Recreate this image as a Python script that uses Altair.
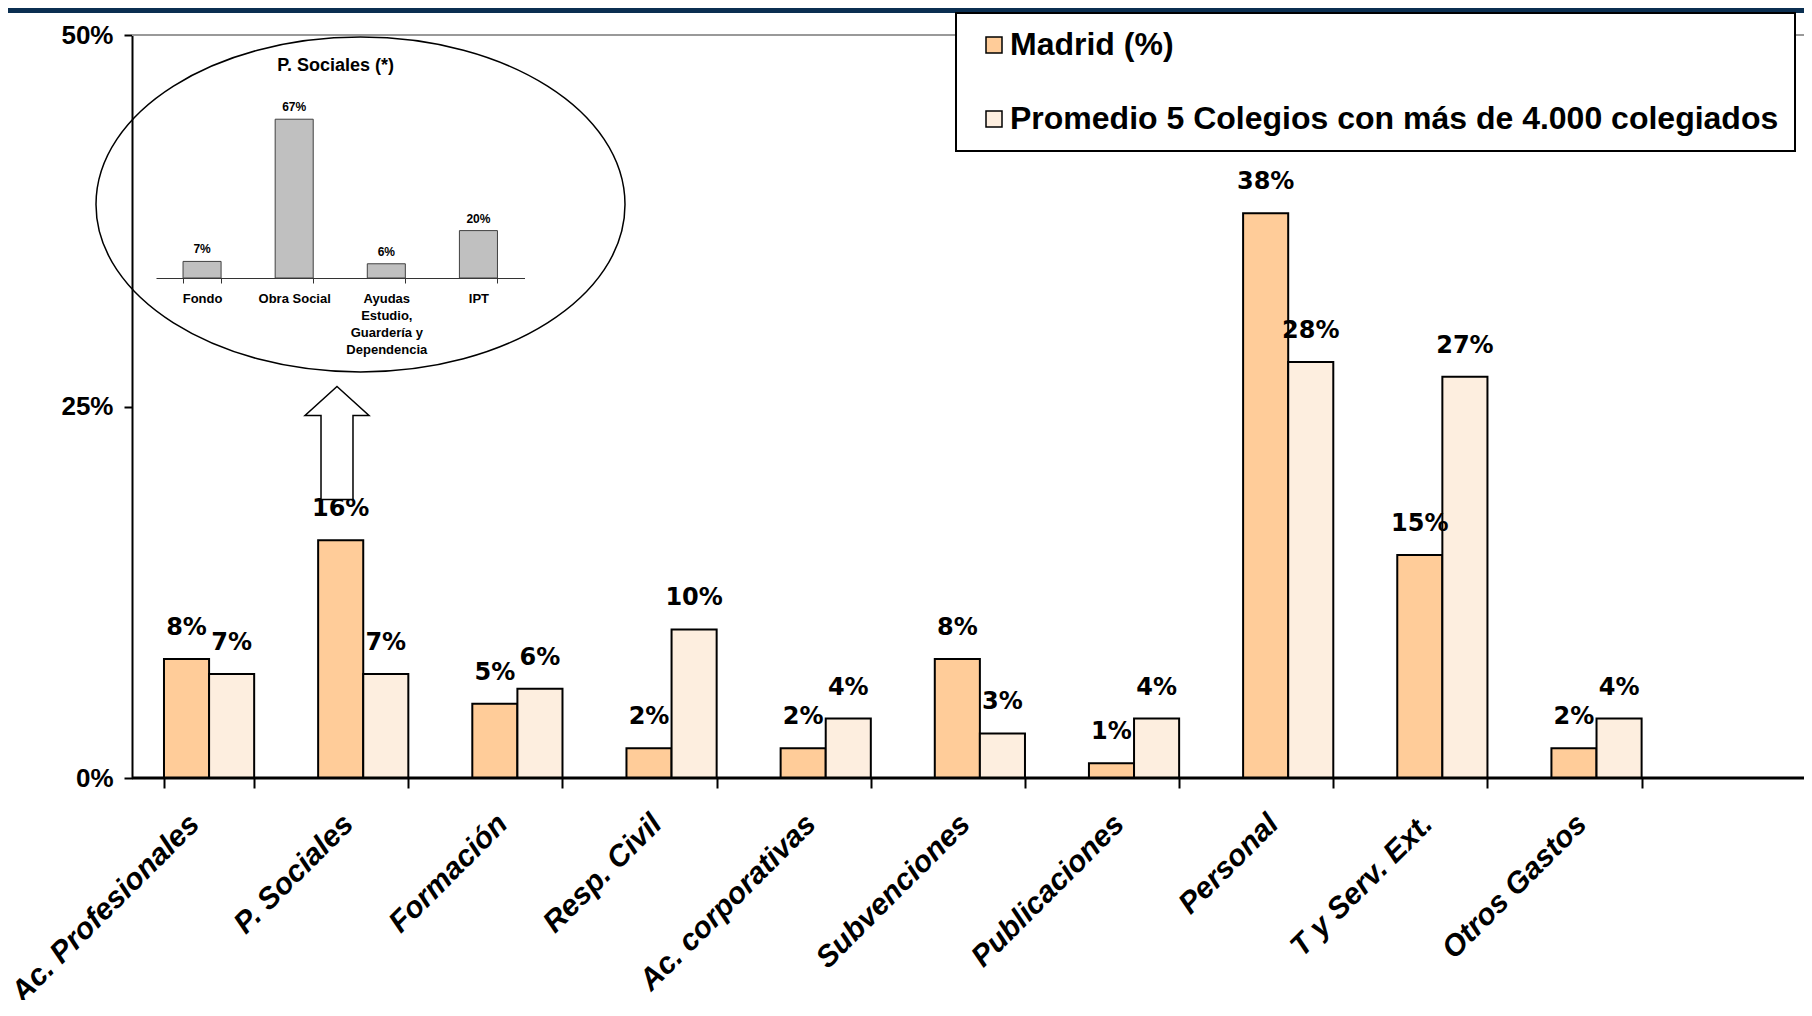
import altair as alt
import pandas as pd

# ---------------- data ----------------
categories = ["Ac. Profesionales", "P. Sociales", "Formación", "Resp. Civil",
              "Ac. corporativas", "Subvenciones", "Publicaciones", "Personal",
              "T y Serv. Ext.", "Otros Gastos"]
madrid = [8, 16, 5, 2, 2, 8, 1, 38, 15, 2]
promedio = [7, 7, 6, 10, 4, 3, 4, 28, 27, 4]
series_names = ["Madrid (%)", "Promedio 5 Colegios con más de 4.000 colegiados"]
series_colors = ["#FFCC99", "#FDEEDF"]
y_ticks = [0, 25, 50]

inset_title = "P. Sociales (*)"
inset_categories = ["Fondo", "Obra Social", "Ayudas\nEstudio,\nGuardería y\nDependencia", "IPT"]
inset_values = [7, 67, 6, 20]

rows = []
for c, m, p in zip(categories, madrid, promedio):
    rows.append({"cat": c, "serie": series_names[0], "value": m, "label": f"{m}%"})
    rows.append({"cat": c, "serie": series_names[1], "value": p, "label": f"{p}%"})
df = pd.DataFrame(rows)
inset_df = pd.DataFrame({"cat": inset_categories, "value": inset_values,
                         "label": [f"{v}%" for v in inset_values]})
one = pd.DataFrame({"z": [0]})

# ---------------- layout ----------------
W, H = 1672, 743
STEP = 154.16

x_scale = alt.Scale(domain=categories, range=[0, STEP * 10], paddingInner=0.415, paddingOuter=0.2075)
y_scale = alt.Scale(domain=[0, 50], nice=False, zero=True)

x_enc = alt.X("cat:N", scale=x_scale, title=None,
              axis=alt.Axis(domain=False, ticks=True, tickBand="extent", tickSize=10, tickWidth=2,
                            tickColor="black", labelAngle=315, labelAlign="right", labelBaseline="middle",
                            labelFont="Liberation Sans", labelFontWeight="bold", labelFontStyle="italic",
                            labelFontSize=30, labelColor="black", labelPadding=31, labelOffset=-15,
                            labelLimit=500, labelOverlap=False, grid=False))
xoff_enc = alt.XOffset("serie:N", scale=alt.Scale(domain=series_names, paddingInner=0, paddingOuter=0))
y_enc = alt.Y("value:Q", scale=y_scale, title=None,
              axis=alt.Axis(values=y_ticks, labelExpr="datum.value + '%'", domain=True, domainColor="black",
                            domainWidth=2, ticks=True, tickSize=8, tickWidth=2, tickColor="black",
                            labelFont="Liberation Sans", labelFontWeight="bold", labelFontSize=26,
                            labelColor="black", labelPadding=11, labelFlush=False, grid=False))

top_line = alt.Chart(one).mark_rule(color="#999999", strokeWidth=2).encode(
    y=alt.datum(50), x=alt.value(0), x2=alt.value(W))

bars = alt.Chart(df).mark_bar(stroke="black", strokeWidth=2).encode(
    x=x_enc, xOffset=xoff_enc, y=y_enc,
    color=alt.Color("serie:N", scale=alt.Scale(domain=series_names, range=series_colors),
                    legend=alt.Legend(title=None, orient="none", legendX=824, legendY=-22,
                                      direction="vertical", symbolType="square", symbolSize=256,
                                      symbolStrokeColor="black", symbolStrokeWidth=1.5, symbolOffset=6,
                                      labelFont="Liberation Sans", labelFontWeight="bold",
                                      labelFontSize=32, labelColor="black", labelOffset=0,
                                      labelLimit=1000, rowPadding=42, padding=16,
                                      strokeColor="black", fillColor="white")))

labels = alt.Chart(df).mark_text(font="DejaVu Sans", fontWeight="bold", fontSize=24, color="black",
                                 baseline="alphabetic", dy=-24).encode(
    x=x_enc, xOffset=xoff_enc, y=y_enc, text="label:N")

baseline = alt.Chart(one).mark_rule(color="black", strokeWidth=3).encode(
    y=alt.datum(0), x=alt.value(0), x2=alt.value(W))

main = alt.layer(top_line, bars, labels, baseline)

# ---------------- inset ----------------
ix = alt.X("cat:N", title=None,
           scale=alt.Scale(domain=inset_categories, range=[24, 392.5], paddingInner=0.587, paddingOuter=0.2935),
           axis=alt.Axis(orient="bottom", offset=-500, domain=True, domainColor="#333333", domainWidth=1,
                         ticks=True, tickBand="extent", tickSize=5, tickWidth=1, tickColor="#333333",
                         labelAngle=0, labelAlign="center", labelBaseline="top", labelPadding=9,
                         labelFont="Liberation Sans", labelFontWeight="bold", labelFontSize=13,
                         labelLineHeight=17, labelExpr="split(datum.label, '\\n')", labelColor="black",
                         labelOverlap=False, labelLimit=300, grid=False))
iy = alt.Y("value:Q", scale=alt.Scale(domain=[0, 100], range=[243, 6], nice=False), axis=None)

inset_bars = alt.Chart(inset_df).mark_bar(fill="#C0C0C0", stroke="#404040", strokeWidth=1).encode(x=ix, y=iy)
inset_labels = alt.Chart(inset_df).mark_text(font="Liberation Sans", fontWeight="bold", fontSize=12,
                                             color="black", baseline="bottom", dy=-5).encode(
    x=ix, y=iy, text="label:N")
inset = alt.layer(inset_bars, inset_labels)

inset_title_mark = alt.Chart(one).mark_text(text=inset_title, font="Liberation Sans", fontWeight="bold",
                                            fontSize=18, color="black").encode(
    x=alt.value(203.7), y=alt.value(31))

ellipse_path = ("M 1 0 C 1 0.3496 0.5523 0.633 0 0.633 C -0.5523 0.633 -1 0.3496 -1 0 "
                "C -1 -0.3496 -0.5523 -0.633 0 -0.633 C 0.5523 -0.633 1 -0.3496 1 0 Z")
ellipse = alt.Chart(one).mark_point(shape=ellipse_path, size=279841, filled=False, stroke="black",
                                    strokeWidth=1.5, opacity=1).encode(
    x=alt.value(228.5), y=alt.value(169.5))

arrow_path = ("M 0 -1 L 0.566 -0.487 L 0.283 -0.487 L 0.283 1 L -0.283 1 "
              "L -0.283 -0.487 L -0.566 -0.487 Z")
arrow = alt.Chart(one).mark_point(shape=arrow_path, size=12769, filled=True, fill="white", stroke="black",
                                  strokeWidth=1.5, opacity=1).encode(
    x=alt.value(205), y=alt.value(408))

navy = alt.Chart(one).mark_rect(color="#0b2f51").encode(
    x=alt.value(-124), x2=alt.value(W), y=alt.value(-27), y2=alt.value(-22))

chart = alt.layer(main, inset, ellipse, inset_title_mark, arrow, navy).resolve_scale(
    x="independent", y="independent"
).properties(
    width=W, height=H,
    padding={"left": 124, "top": 27, "right": 0, "bottom": 222},
    autosize=alt.AutoSizeParams(type="none"),
    background="white",
).configure_view(stroke=None).configure_legend(strokeWidth=2)

chart.save("out.html", embed_options={"renderer": "svg", "actions": False})
